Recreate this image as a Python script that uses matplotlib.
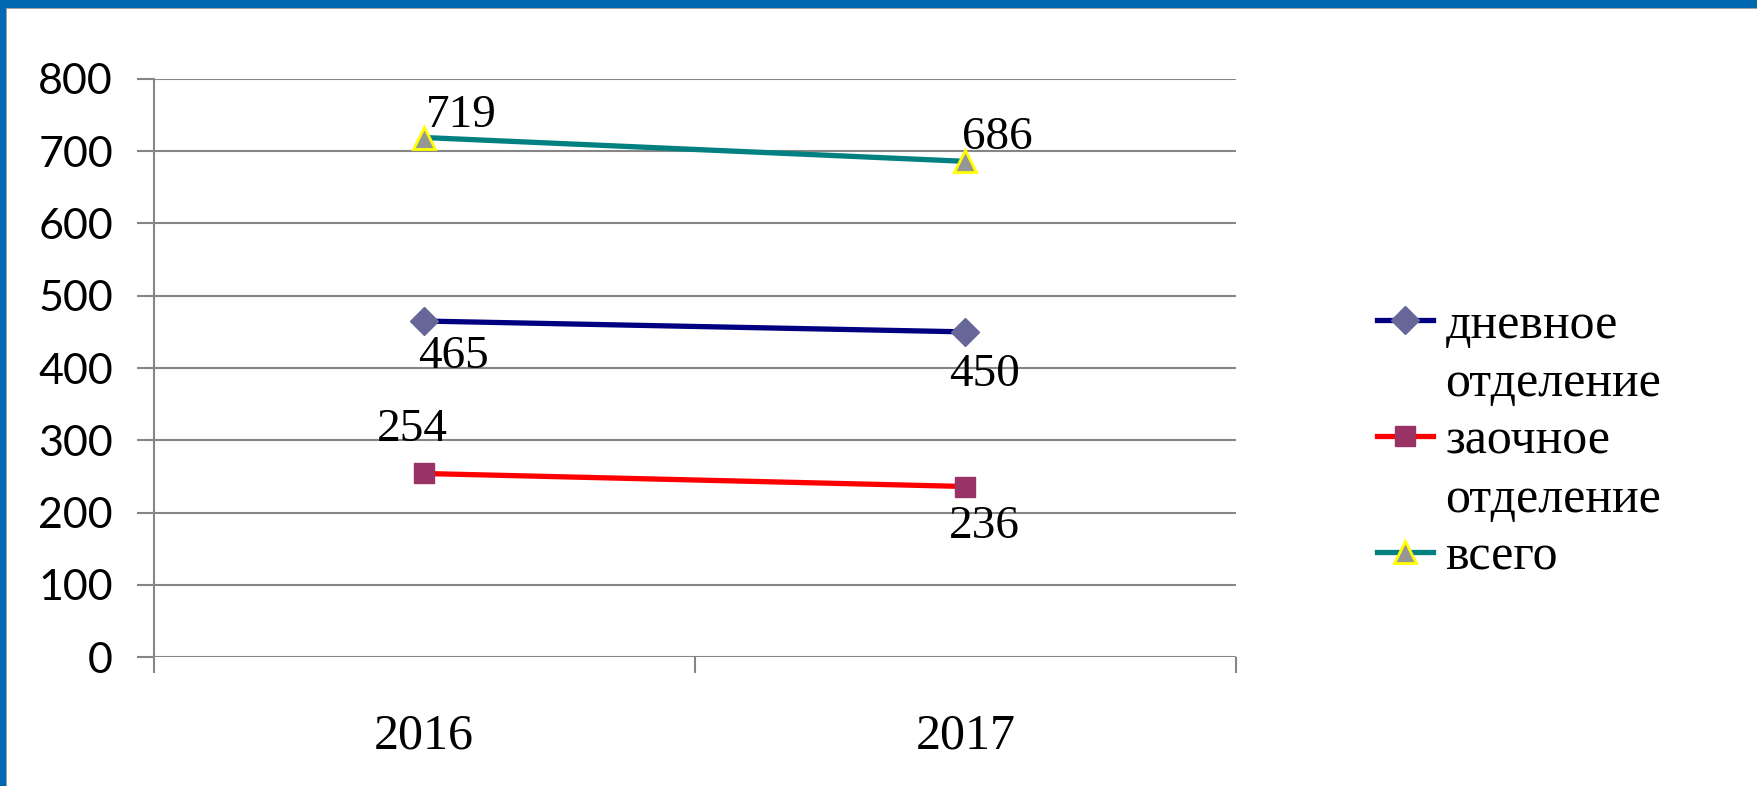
import matplotlib.pyplot as plt
from matplotlib.lines import Line2D
from matplotlib.patches import Rectangle

years = ['2016', '2017']
day_dept = [465, 450]
extramural = [254, 236]
total = [719, 686]
y_ticks = [0, 100, 200, 300, 400, 500, 600, 700, 800]

grid_col = '#868686'
serif = 'Liberation Serif'

fig = plt.figure(figsize=(17.58, 7.86), dpi=100)
ax = fig.add_axes([0.0874, 0.1641, 0.7031 - 0.0874, 0.8995 - 0.1641])

x = list(range(len(years)))
l1, = ax.plot(x, day_dept, color='#000080', lw=3.8, marker='D', ms=14,
              mfc='#666699', mec='#666699', zorder=3)
l2, = ax.plot(x, extramural, color='#FF0000', lw=3.8, marker='s', ms=14,
              mfc='#993366', mec='#993366', zorder=3)
l3, = ax.plot(x, total, color='#008080', lw=3.8, marker='^', ms=16,
              mfc='#969696', mec='#FFFF00', mew=2, zorder=3)

# data labels (offsets in pixels, as in the source picture)
offs = {
    'total': [(2, 1, 'left', 'bottom'), (-3, 2, 'left', 'bottom')],
    'day': [(29, -14, 'center', 'top'), (19, -22, 'center', 'top')],
    'ext': [(-12, 22, 'center', 'bottom'), (19, -19, 'center', 'top')],
}
for key, vals in (('total', total), ('day', day_dept), ('ext', extramural)):
    for i, v in enumerate(vals):
        dx, dy, ha, va = offs[key][i]
        ax.annotate(str(v), (x[i], v), xytext=(dx, dy), textcoords='offset pixels',
                    ha=ha, va=va, fontsize=34, family=serif, zorder=4)

ax.set_xlim(-0.5, len(years) - 0.5)
ax.set_ylim(0, 800)
ax.set_yticks(y_ticks)
ax.set_yticklabels([str(t) for t in y_ticks], family='Lato', fontsize=31)
ax.tick_params(axis='y', length=12.2, width=1.5, color=grid_col, pad=17)
ax.grid(axis='y', color=grid_col, lw=1.5)
ax.set_axisbelow(True)

ax.set_xticks([-0.5, 0.5, 1.5])
ax.set_xticklabels([])
ax.tick_params(axis='x', which='major', length=11.5, width=1.5, color=grid_col)
ax.set_xticks(x, minor=True)
ax.set_xticklabels(years, minor=True, family=serif, fontsize=36)
ax.tick_params(axis='x', which='minor', length=0, pad=40)

for s in ('top', 'right', 'bottom'):
    ax.spines[s].set_visible(False)
ax.spines['left'].set_color(grid_col)
ax.spines['left'].set_linewidth(1.5)

blank = Line2D([], [], linestyle='none')
fig.legend([l1, blank, l2, blank, l3],
           ['дневное', 'отделение', 'заочное', 'отделение', 'всего'],
           loc='center left', bbox_to_anchor=(0.7833, 0.4384), frameon=False,
           prop={'family': serif, 'size': 36}, borderpad=0, borderaxespad=0,
           handlelength=1.11, handletextpad=0.26, labelspacing=0.23)

# blue frame on top and left
fig.add_artist(Rectangle((0, 1 - 8 / 786), 1, 8 / 786, transform=fig.transFigure,
                         color='#0068B0', lw=0))
fig.add_artist(Rectangle((0, 1 - 9 / 786), 1, 1 / 786, transform=fig.transFigure,
                         color='#A0A0A0', lw=0))
fig.add_artist(Rectangle((0, 0), 6 / 1758, 1, transform=fig.transFigure,
                         color='#0068B0', lw=0))
fig.add_artist(Rectangle((6 / 1758, 0), 1 / 1758, 1 - 8 / 786, transform=fig.transFigure,
                         color='#A0A0A0', lw=0))

fig.savefig('out.png', dpi=100)
